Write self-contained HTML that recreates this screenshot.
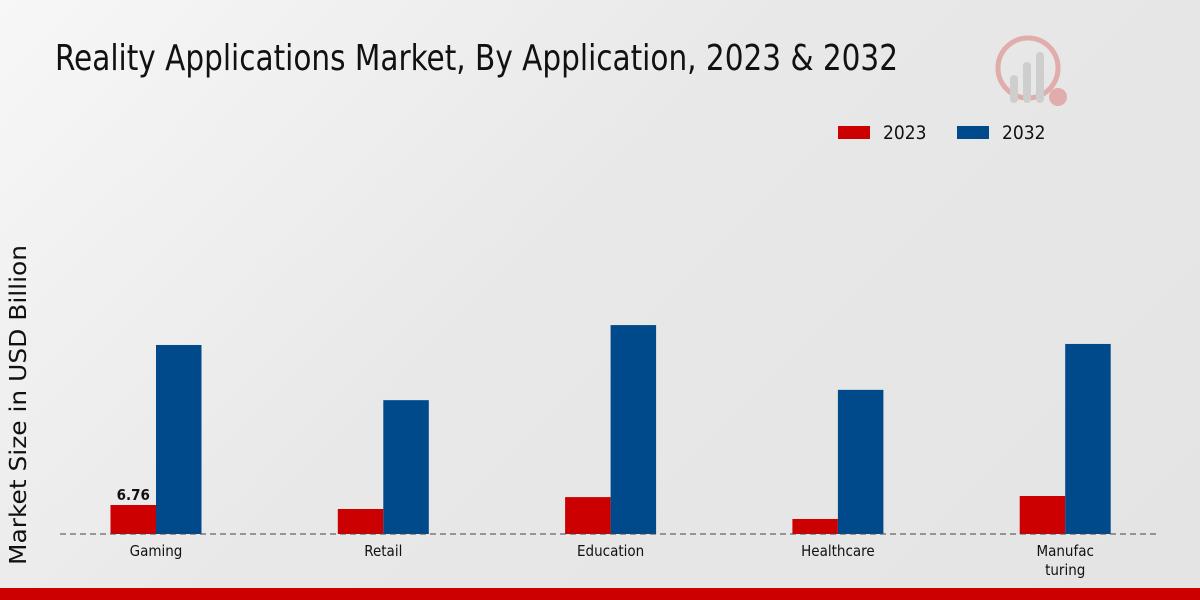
<!DOCTYPE html>
<html><head><meta charset="utf-8"><style>
html,body{margin:0;padding:0}
body{width:1200px;height:600px;overflow:hidden;background:linear-gradient(135deg,#f7f7f7 0%,#e8e8e8 45%,#e4e4e4 100%);font-family:"Liberation Sans",sans-serif;position:relative}
</style></head><body>
<svg id="chart" width="1200" height="600" style="position:absolute;left:0;top:0">
<text x="55" y="70" font-family="'DejaVu Sans Condensed','Liberation Sans',sans-serif" font-size="36" textLength="843" lengthAdjust="spacingAndGlyphs" fill="#111">Reality Applications Market, By Application, 2023 &amp; 2032</text>
<g opacity="0.25">
<circle cx="1028" cy="68" r="30" fill="none" stroke="#c00" stroke-width="5"/>
<rect x="1010" y="75" width="8" height="28" rx="4" fill="#888"/>
<rect x="1023" y="62" width="8" height="41" rx="4" fill="#888"/>
<rect x="1036" y="52" width="8" height="51" rx="4" fill="#888"/>
<circle cx="1058" cy="97" r="9" fill="#c00"/>
</g>
<g>
<rect x="838" y="126" width="32" height="13" fill="#cc0000"/>
<text x="883" y="139" font-size="19" font-family="'DejaVu Sans Condensed','Liberation Sans',sans-serif" fill="#111">2023</text>
<rect x="957" y="126" width="32" height="13" fill="#004a8c"/>
<text x="1002" y="139" font-size="19" font-family="'DejaVu Sans Condensed','Liberation Sans',sans-serif" fill="#111">2032</text>
</g>
<text transform="translate(26,405) rotate(-90)" text-anchor="middle" font-size="23" font-family="'DejaVu Sans','Liberation Sans',sans-serif" textLength="320" lengthAdjust="spacingAndGlyphs" fill="#111">Market Size in USD Billion</text>
<g id="bars"></g>
<line x1="60" y1="534" x2="1160" y2="534" stroke="#444" stroke-dasharray="6,4" stroke-width="1"/>
<g id="labels"></g>
<rect x="0" y="588" width="1200" height="12" fill="#cc0000"/>
</svg>
<script>
const categories = ["Gaming", "Retail", "Education", "Healthcare", "Manufac|turing"];
const values2023 = [6.76, 5.83, 8.6, 3.5, 8.86];
const values2032 = [44.06, 31.2, 48.7, 33.6, 44.3];
const shownLabels = ["6.76", "", "", "", ""];

const NS = "http://www.w3.org/2000/svg";
const baseY = 534, pxPerUnit = 4.29;
function yScale(v){ return baseY - v * pxPerUnit; }
function xCenter(i){ return 156 + i * 227.3; }
const barW = 45.5;
const bars = document.getElementById('bars');
const labels = document.getElementById('labels');
categories.forEach((c, i) => {
  const cx = xCenter(i);
  const r1 = document.createElementNS(NS, 'rect');
  r1.setAttribute('x', cx - barW); r1.setAttribute('y', yScale(values2023[i]));
  r1.setAttribute('width', barW); r1.setAttribute('height', baseY - yScale(values2023[i]));
  r1.setAttribute('fill', '#cc0000');
  
  
  bars.appendChild(r1);
  const r2 = document.createElementNS(NS, 'rect');
  r2.setAttribute('x', cx); r2.setAttribute('y', yScale(values2032[i]));
  r2.setAttribute('width', barW); r2.setAttribute('height', baseY - yScale(values2032[i]));
  r2.setAttribute('fill', '#004a8c');
  
  
  bars.appendChild(r2);
  if (shownLabels[i]) {
    const t = document.createElementNS(NS, 'text');
    t.setAttribute('x', cx - barW / 2); t.setAttribute('y', yScale(values2023[i]) - 5);
    t.setAttribute('text-anchor', 'middle'); t.setAttribute('font-size', '15');
    t.setAttribute('font-family', "'DejaVu Sans Condensed','Liberation Sans',sans-serif");
    t.setAttribute('font-weight', 'bold'); t.setAttribute('fill', '#111');
    t.textContent = shownLabels[i];
    
    
    labels.appendChild(t);
  }
  c.split('|').forEach((line, j) => {
    const t = document.createElementNS(NS, 'text');
    t.setAttribute('x', cx); t.setAttribute('y', 556 + j * 19);
    t.setAttribute('text-anchor', 'middle'); t.setAttribute('font-size', '15');
    t.setAttribute('font-family', "'DejaVu Sans Condensed','Liberation Sans',sans-serif");
    t.setAttribute('fill', '#111');
    t.textContent = line;
    
    
    labels.appendChild(t);
  });
});
</script>
</body></html>
